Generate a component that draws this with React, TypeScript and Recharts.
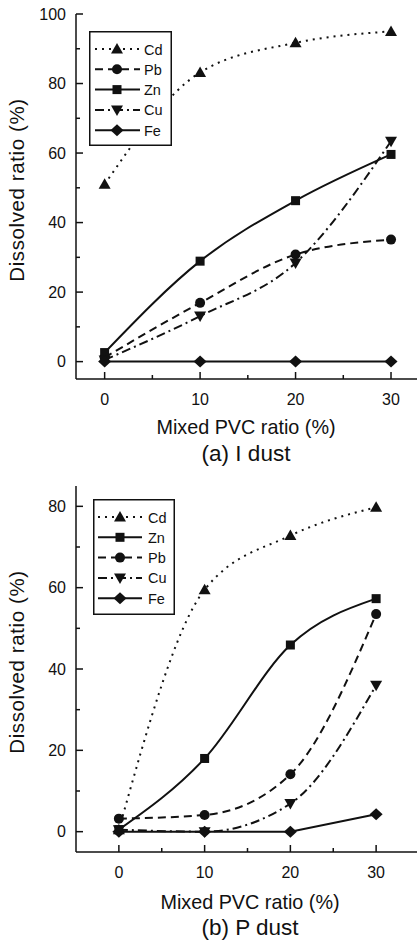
import React from "react";
import { LineChart, Line, XAxis, YAxis, Legend } from "recharts";

const pvcRatio = [0, 10, 20, 30];

// (a) I dust
const iDustCd = [51, 83.2, 91.7, 95];
const iDustPb = [1.2, 16.9, 30.8, 35.1];
const iDustZn = [2.6, 28.9, 46.3, 59.6];
const iDustCu = [0.5, 13.1, 28.4, 63.4];
const iDustFe = [0, 0, 0, 0];

// (b) P dust
const pDustCd = [0.5, 59.5, 72.8, 79.8];
const pDustZn = [0.5, 18, 45.9, 57.3];
const pDustPb = [3.2, 4.1, 14.1, 53.5];
const pDustCu = [0.5, 0, 6.9, 36];
const pDustFe = [0, 0, 0, 4.3];

const xTicks = [0, 5, 10, 15, 20, 25, 30];
const iDustYTicks = [0, 10, 20, 30, 40, 50, 60, 70, 80, 90, 100];
const pDustYTicks = [0, 10, 20, 30, 40, 50, 60, 70, 80];

const iDustOrder = ["Cd", "Pb", "Zn", "Cu", "Fe"];
const pDustOrder = ["Cd", "Zn", "Pb", "Cu", "Fe"];

const FONT = '"Liberation Sans", Arial, Helvetica, sans-serif';
const INK = "#111";

// no page scrollbars, the charts are pinned to the viewport
if (typeof document !== "undefined") {
  document.documentElement.style.overflow = "hidden";
  document.body.style.margin = "0";
}

type Shape = "up" | "down" | "circle" | "square" | "diamond";

const seriesStyle: Record<string, { dash?: string; shape: Shape; curve: "monotone" | "linear" }> = {
  Cd: { dash: "2 5", shape: "up", curve: "monotone" },
  Pb: { dash: "8 5", shape: "circle", curve: "monotone" },
  Zn: { shape: "square", curve: "monotone" },
  Cu: { dash: "9 4 2 4", shape: "down", curve: "monotone" },
  Fe: { shape: "diamond", curve: "linear" },
};

function Marker({ cx, cy, shape }: { cx: number; cy: number; shape: Shape }) {
  if (cx == null || cy == null) return null;
  switch (shape) {
    case "up":
      return <polygon points={`${cx},${cy - 6} ${cx + 6},${cy + 4.5} ${cx - 6},${cy + 4.5}`} fill={INK} />;
    case "down":
      return <polygon points={`${cx},${cy + 6} ${cx + 6},${cy - 4.5} ${cx - 6},${cy - 4.5}`} fill={INK} />;
    case "circle":
      return <circle cx={cx} cy={cy} r={5} fill={INK} />;
    case "square":
      return <rect x={cx - 4.5} y={cy - 4.5} width={9} height={9} fill={INK} />;
    default:
      return <polygon points={`${cx},${cy - 6} ${cx + 6.5},${cy} ${cx},${cy + 6} ${cx - 6.5},${cy}`} fill={INK} />;
  }
}

const tickText = { fontSize: 16, fill: INK, fontFamily: FONT };

function bottomTick(props: any) {
  const { x, y, payload } = props;
  const major = payload.value % 10 === 0;
  return (
    <g>
      <line x1={x} y1={y} x2={x} y2={y - (major ? 7 : 4)} stroke={INK} strokeWidth={1.5} />
      {major && (
        <text x={x} y={y + 26} textAnchor="middle" {...tickText}>
          {payload.value}
        </text>
      )}
    </g>
  );
}

function topTick(props: any) {
  const { x, y, payload } = props;
  const major = payload.value % 10 === 0;
  return <line x1={x} y1={y} x2={x} y2={y + (major ? 7 : 4)} stroke={INK} strokeWidth={1.5} />;
}

function leftTick(props: any) {
  const { x, y, payload } = props;
  const major = payload.value % 20 === 0;
  return (
    <g>
      <line x1={x} y1={y} x2={x + (major ? 7 : 4)} y2={y} stroke={INK} strokeWidth={1.5} />
      {major && (
        <text x={x - 10} y={y + 5.5} textAnchor="end" {...tickText}>
          {payload.value}
        </text>
      )}
    </g>
  );
}

function rightTick(props: any) {
  const { x, y, payload } = props;
  const major = payload.value % 20 === 0;
  return <line x1={x} y1={y} x2={x - (major ? 7 : 4)} y2={y} stroke={INK} strokeWidth={1.5} />;
}

function LegendBox({ order, width, height, rowTop, lineX1, lineX2, markX, textX }: any) {
  return (
    <svg width={width} height={height} style={{ display: "block" }}>
      <rect x={0.75} y={0.75} width={width - 1.5} height={height - 1.5} fill="#fff" stroke={INK} strokeWidth={1.5} />
      {order.map((name: string, i: number) => {
        const y = rowTop + i * 20.3;
        const s = seriesStyle[name];
        return (
          <g key={name}>
            <line x1={lineX1} x2={lineX2} y1={y} y2={y} stroke={INK} strokeWidth={2} strokeDasharray={s.dash} />
            <Marker cx={markX} cy={y} shape={s.shape} />
            <text x={textX} y={y + 5.5} fontSize={14.5} fill={INK} fontFamily={FONT}>
              {name}
            </text>
          </g>
        );
      })}
    </svg>
  );
}

function Panel(props: any) {
  const { top, width, height, marginTop, xAxisHeight, xDomain, yDomain, yTicks, rows, order, legend, plotMid, titleBase, captionBase, yTitleY, caption } = props;
  return (
    <div style={{ position: "absolute", left: 0, top, width, height }}>
      <LineChart width={width} height={height} data={rows} margin={{ top: marginTop, right: 0, bottom: 0, left: 0 }}>
        <XAxis dataKey="x" type="number" domain={xDomain} allowDataOverflow ticks={xTicks} interval={0} tickSize={0} tickMargin={0} tickLine={false} tick={bottomTick} height={xAxisHeight} axisLine={{ stroke: INK, strokeWidth: 1.5 }} />
        <XAxis xAxisId="top" orientation="top" dataKey="x" type="number" domain={xDomain} allowDataOverflow ticks={xTicks} interval={0} tickSize={0} tickMargin={0} tickLine={false} tick={topTick} height={0} axisLine={{ stroke: INK, strokeWidth: 1.5 }} />
        <YAxis type="number" domain={yDomain} allowDataOverflow ticks={yTicks} interval={0} tickSize={0} tickMargin={0} tickLine={false} tick={leftTick} width={76} axisLine={{ stroke: INK, strokeWidth: 1.5 }} />
        <YAxis yAxisId="right" orientation="right" type="number" domain={yDomain} allowDataOverflow ticks={yTicks} interval={0} tickSize={0} tickMargin={0} tickLine={false} tick={rightTick} width={0} axisLine={{ stroke: INK, strokeWidth: 1.5 }} />
        <Legend
          layout="horizontal"
          verticalAlign="middle"
          align="center"
          wrapperStyle={{ left: legend.left, top: legend.top, width: legend.width, height: legend.height }}
          content={() => <LegendBox order={order} {...legend} />}
        />
        {order.map((name: string) => {
          const s = seriesStyle[name];
          return (
            <Line
              key={name}
              dataKey={name}
              type={s.curve}
              stroke={INK}
              strokeWidth={2}
              strokeDasharray={s.dash}
              isAnimationActive={false}
              dot={(p: any) => <Marker key={`${name}-${p.index}`} cx={p.cx} cy={p.cy} shape={s.shape} />}
              activeDot={false}
            />
          );
        })}
      </LineChart>
      <svg width={width} height={height} style={{ position: "absolute", left: 0, top: 0, pointerEvents: "none" }}>
        <text x={plotMid} y={titleBase} textAnchor="middle" fontSize={19.8} fill={INK} fontFamily={FONT}>
          Mixed PVC ratio (%)
        </text>
        <text x={plotMid} y={captionBase} textAnchor="middle" fontSize={22.5} fill={INK} fontFamily={FONT}>
          {caption}
        </text>
        <text transform={`translate(24, ${yTitleY}) rotate(-90)`} textAnchor="middle" fontSize={20.5} letterSpacing={0.6} fill={INK} fontFamily={FONT}>
          Dissolved ratio (%)
        </text>
      </svg>
    </div>
  );
}

const iDustRows = pvcRatio.map((x, i) => ({ x, Cd: iDustCd[i], Pb: iDustPb[i], Zn: iDustZn[i], Cu: iDustCu[i], Fe: iDustFe[i] }));
const pDustRows = pvcRatio.map((x, i) => ({ x, Cd: pDustCd[i], Pb: pDustPb[i], Zn: pDustZn[i], Cu: pDustCu[i], Fe: pDustFe[i] }));

export default function App() {
  return (
    <div style={{ position: "fixed", left: 0, top: 0, width: 417, height: 945, overflow: "hidden", background: "#fff" }}>
      <Panel
        top={0}
        width={425}
        height={470}
        marginTop={14}
        xAxisHeight={91}
        xDomain={[-3, 33.56]}
        yDomain={[-5, 100]}
        yTicks={iDustYTicks}
        rows={iDustRows}
        order={iDustOrder}
        legend={{ left: 89, top: 31, width: 83, height: 115, rowTop: 18, lineX1: 6, lineX2: 51, markX: 28, textX: 55 }}
        plotMid={246}
        titleBase={434}
        captionBase={461}
        yTitleY={190}
        caption="(a) I dust"
      />
      <Panel
        top={470}
        width={425}
        height={475}
        marginTop={16}
        xAxisHeight={93}
        xDomain={[-5, 35.7]}
        yDomain={[-5, 85]}
        yTicks={pDustYTicks}
        rows={pDustRows}
        order={pDustOrder}
        legend={{ left: 93, top: 29, width: 82, height: 116, rowTop: 18, lineX1: 5, lineX2: 49, markX: 27, textX: 55 }}
        plotMid={250}
        titleBase={439}
        captionBase={465}
        yTitleY={192}
        caption="(b) P dust"
      />
    </div>
  );
}
